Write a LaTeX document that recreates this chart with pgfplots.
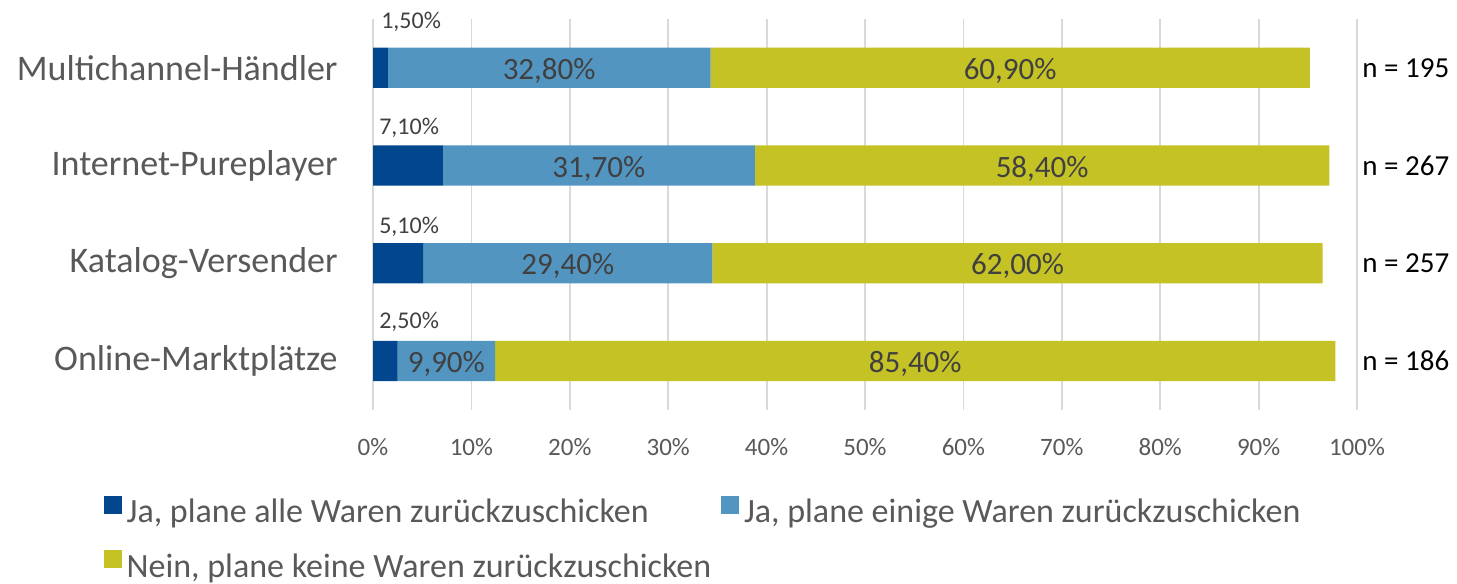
\documentclass[border=0pt]{standalone}
\usepackage{pgfplots}
\pgfplotsset{compat=1.18}
\usepackage{fontspec}
\setmainfont{Carlito}
\definecolor{cDark}{HTML}{02468D}
\definecolor{cMid}{HTML}{5395C1}
\definecolor{cOlive}{HTML}{C4C225}
\definecolor{tGray}{HTML}{595959}
\definecolor{tDark}{HTML}{404040}
\definecolor{gridc}{HTML}{D9D9D9}
\tikzset{
 smalllab/.style={font=\fontsize{12}{14}\selectfont, text=tDark, anchor=west, inner sep=0pt},
 midlab/.style={font=\fontsize{15.5}{18}\selectfont, text=tDark, inner sep=0pt},
 nlab/.style={font=\fontsize{14.5}{17}\selectfont, text=black, anchor=west, inner sep=0pt},
}
\begin{document}
\begin{tikzpicture}
\begin{axis}[
 xbar stacked,
 scale only axis,
 width=492pt, height=195.5pt,
 xmin=0, xmax=100, ymin=-0.5, ymax=3.5,
 bar width=0.41,
 clip=false,
 axis line style={draw=none},
 xtick={0,10,...,100},
 xticklabel={\pgfmathprintnumber{\tick}\%},
 /pgf/number format/assume math mode=true,
 ytick={0,1,2,3},
 yticklabels={Online-Marktplätze,Katalog-Versender,Internet-Pureplayer,Multichannel-Händler},
 major tick length=0pt,
 xmajorgrids,
 grid style={gridc, line width=0.9pt},
 xticklabel style={font=\fontsize{12.5}{15}\selectfont, text=tGray, inner sep=0pt, yshift=-14pt},
 yticklabel style={font=\fontsize{18}{22}\selectfont, text=tGray, inner sep=0pt, xshift=-17.5pt},
 legend columns=2,
 legend cell align=left,
 legend style={draw=none, fill=none, at={(axis cs:-28.0,-1.325)}, anchor=north west,
   font=\fontsize{17}{20}\selectfont, text=tGray, row sep=10pt,
   /tikz/every even column/.append style={column sep=3pt},
   /tikz/every odd column/.append style={column sep=0.5pt}},
]
\addplot[fill=cDark, draw=none, forget plot] coordinates {(2.5,0) (5.1,1) (7.1,2) (1.5,3)};
\addplot[fill=cMid, draw=none, forget plot] coordinates {(9.9,0) (29.4,1) (31.7,2) (32.8,3)};
\addplot[fill=cOlive, draw=none, forget plot] coordinates {(85.4,0) (62.0,1) (58.4,2) (60.9,3)};
\addlegendimage{legend image code/.code={\fill[cDark] (0pt,-0.5pt) rectangle (8.5pt,8pt);}}
\addlegendentry{Ja, plane alle Waren zurückzuschicken}
\addlegendimage{legend image code/.code={\fill[cMid] (0pt,-0.5pt) rectangle (8.5pt,8pt);}}
\addlegendentry{Ja, plane einige Waren zurückzuschicken}
\addlegendimage{legend image code/.code={\fill[cOlive] (0pt,-0.5pt) rectangle (8.5pt,8pt);}}
\addlegendentry{Nein, plane keine Waren zurückzuschicken}

\coordinate (s3) at (axis cs:0.8,3.468);
\coordinate (s2) at (axis cs:0.6,2.384);
\coordinate (s1) at (axis cs:0.6,1.371);
\coordinate (s0) at (axis cs:0.6,0.399);

\coordinate (m3) at (axis cs:17.9,2.97);
\coordinate (m2) at (axis cs:22.95,1.97);
\coordinate (m1) at (axis cs:19.8,0.97);
\coordinate (m0) at (axis cs:7.45,-0.03);
\coordinate (o3) at (axis cs:64.75,2.97);
\coordinate (o2) at (axis cs:68.0,1.97);
\coordinate (o1) at (axis cs:65.5,0.97);
\coordinate (o0) at (axis cs:55.1,-0.03);

\coordinate (n3) at (axis cs:100.5,3);
\coordinate (n2) at (axis cs:100.5,2);
\coordinate (n1) at (axis cs:100.5,1);
\coordinate (n0) at (axis cs:100.5,0);

\coordinate (bbl) at (axis cs:-37.907,-2.281);
\coordinate (btr) at (axis cs:110.163,3.693);
\end{axis}
\node[smalllab] at (s3) {1,50\%};
\node[smalllab] at (s2) {7,10\%};
\node[smalllab] at (s1) {5,10\%};
\node[smalllab] at (s0) {2,50\%};

\node[midlab] at (m3) {32,80\%};
\node[midlab] at (m2) {31,70\%};
\node[midlab] at (m1) {29,40\%};
\node[midlab] at (m0) {9,90\%};
\node[midlab] at (o3) {60,90\%};
\node[midlab] at (o2) {58,40\%};
\node[midlab] at (o1) {62,00\%};
\node[midlab] at (o0) {85,40\%};

\node[nlab] at (n3) {n = 195};
\node[nlab] at (n2) {n = 267};
\node[nlab] at (n1) {n = 257};
\node[nlab] at (n0) {n = 186};

\pgfresetboundingbox
\path[use as bounding box] (bbl) rectangle (btr);
\end{tikzpicture}
\end{document}
